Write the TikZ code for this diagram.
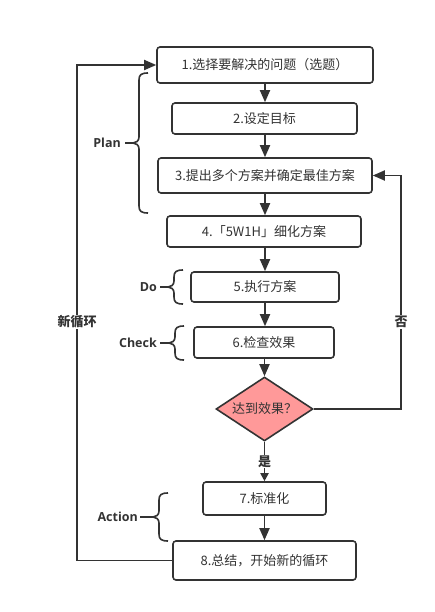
\documentclass[tikz,border=0pt]{standalone}
\usepackage{fontspec}
\setmainfont{Open Sans}
\newfontfamily\cjk{Noto Sans CJK SC}
\usetikzlibrary{arrows.meta,shapes.geometric}
\definecolor{ink}{HTML}{333333}
\definecolor{pinkfill}{HTML}{FF9999}
\tikzset{
  box/.style={draw=ink, line width=1.6pt, rounded corners=3pt, fill=white,
    font=\cjk\fontsize{13}{15}\selectfont, text=ink, inner sep=0pt},
  conn/.style={draw=ink, line width=1.8pt, -{Triangle[length=12pt,width=10pt]}},
  brc/.style={draw=ink, line width=1.6pt},
  phase/.style={font=\bfseries\fontsize{12.5}{14}\selectfont, text=ink, anchor=east, inner sep=0pt},
  lbl/.style={font=\cjk\bfseries\fontsize{13}{15}\selectfont, text=ink, fill=white, inner sep=1pt}
}
\newcommand\mybrace[4]{%
  \pgfmathsetmacro\bm{(#2+#3)/2}%
  \pgfmathsetmacro\xv{#1-9}%
  \pgfmathsetmacro\xt{#1-15}%
  \draw[brc] (#1,#2) .. controls (\xv+2,#2) and (\xv,#2+2) .. (\xv,#2+7)
    -- (\xv,\bm-6) .. controls (\xv,\bm-2) and (\xv-3,\bm) .. (\xt,\bm)
    .. controls (\xv-3,\bm) and (\xv,\bm+2) .. (\xv,\bm+6)
    -- (\xv,#3-7) .. controls (\xv,#3-2) and (\xv+2,#3) .. (#1,#3);
  \draw[brc] (\xt,\bm) -- (#4,\bm);
}
\begin{document}
\begin{tikzpicture}[x=1pt,y=-1pt]
\useasboundingbox (0,0) rectangle (434,612);
% boxes
\node[box, minimum width=216pt, minimum height=36pt] (b1) at (265,65) {1.选择要解决的问题（选题）};
\node[box, minimum width=185pt, minimum height=31pt] (b2) at (264.5,118.5) {2.设定目标};
\node[box, minimum width=214pt, minimum height=35pt] (b3) at (265,175.5) {3.提出多个方案并确定最佳方案};
\node[box, minimum width=194pt, minimum height=31pt] (b4) at (264,231.5) {4.「5W1H」细化方案};
\node[box, minimum width=148pt, minimum height=30pt] (b5) at (265,287) {5.执行方案};
\node[box, minimum width=140pt, minimum height=31pt] (b6) at (264,342.5) {6.检查效果};
\node[draw=ink, line width=1.6pt, fill=pinkfill, diamond, aspect=1.5, inner sep=0pt,
  minimum width=97pt, minimum height=64pt, font=\cjk\fontsize{13}{15}\selectfont, text=ink] (d) at (264.5,409) {达到效果？};
\node[box, minimum width=123pt, minimum height=33pt] (b7) at (264.5,498.5) {7.标准化};
\node[box, minimum width=183pt, minimum height=39pt] (b8) at (264.5,560.5) {8.总结，开始新的循环};
% vertical arrows
\draw[conn] (b1.south -| 265,0) -- (b2.north -| 265,0);
\draw[conn] (b2.south -| 265,0) -- (b3.north -| 265,0);
\draw[conn] (b3.south -| 265,0) -- (b4.north -| 265,0);
\draw[conn] (b4.south -| 265,0) -- (b5.north -| 265,0);
\draw[conn] (b5.south -| 265,0) -- (b6.north -| 265,0);
\draw[conn] (b6.south -| 264.5,0) -- (d.north);
\draw[conn, -{Triangle[length=8pt,width=8pt]}] (d.south) -- (b7.north) node[pos=0.5, lbl] (yes) {是};
\draw[conn] (b7.south -| 264.5,0) -- (b8.north -| 264.5,0);
% loops
\coordinate (lx) at (77,0);
\coordinate (rx) at (401,0);
\draw[conn] (b8.west) -- (b8.west -| lx) -- (b1.west -| lx) -- (b1.west);
\node[lbl] (newloop) at (77,322) {新循环};
\draw[conn] (d.east) -- (d.east -| rx) -- (b3.east -| rx) -- (b3.east);
\node[lbl] (no) at (401,322) {否};
% braces
\mybrace{148}{73}{213}{125}
\mybrace{183}{270}{304}{160}
\mybrace{184}{326}{360}{160}
\mybrace{168}{493}{541}{140}
\node[phase] (pplan) at (121,143) {Plan};
\node[phase] (pdo) at (157,287) {Do};
\node[phase] (pcheck) at (157,343) {Check};
\node[phase] (pact) at (138,517) {Action};
\end{tikzpicture}
\end{document}
